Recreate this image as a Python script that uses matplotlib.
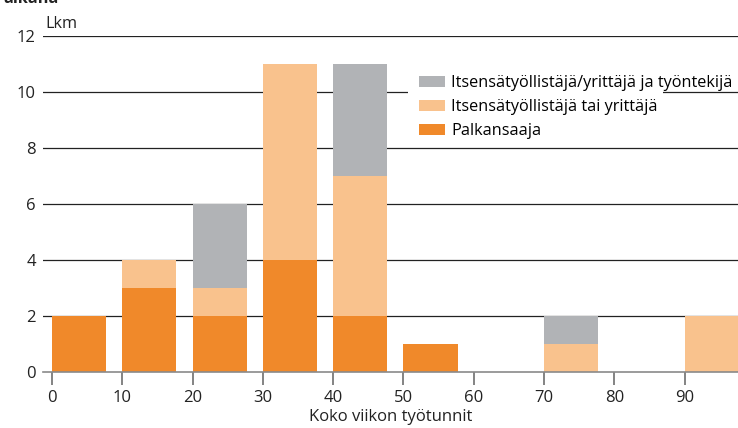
import numpy as np
import matplotlib.pyplot as plt
from matplotlib.patches import Rectangle

plt.rcParams['font.family'] = ['Open Sans', 'DejaVu Sans']

# weekly working hours, bins start at these values
hours = [0, 10, 20, 30, 40, 50, 70, 90]
palkansaaja = [2, 3, 2, 4, 2, 1, 0, 0]
tai_yrittaja = [0, 1, 1, 7, 5, 0, 1, 2]
ja_tyontekija = [0, 0, 3, 0, 4, 0, 1, 0]

labels = ['Palkansaaja', 'Itsensätyöllistäjä tai yrittäjä',
          'Itsensätyöllistäjä/yrittäjä ja työntekijä']
colors = ['#F0892A', '#F9C28D', '#B1B3B6']
fs = 11.7

fig = plt.figure(figsize=(7.38, 4.28), dpi=100)
ax = fig.add_axes([0.058, 0.131, 0.942, 0.785])

x = np.array(hours)
p = np.array(palkansaaja)
t = np.array(tai_yrittaja)
j = np.array(ja_tyontekija)
width = 7.7

b1 = ax.bar(x, p, width=width, align='edge', color=colors[0], label=labels[0], zorder=3)
b2 = ax.bar(x, t, width=width, align='edge', bottom=p, color=colors[1], label=labels[1], zorder=3)
b3 = ax.bar(x, j, width=width, align='edge', bottom=p + t, color=colors[2], label=labels[2], zorder=3)

ax.set_xlim(-1.3, 97.6)
ax.set_ylim(0, 12)
ax.set_yticks(range(0, 13, 2))
ax.set_xticks(range(0, 100, 10))

for yv in range(2, 13, 2):
    ax.axhline(yv, color='#222222', lw=0.9, zorder=1)

# white strip behind the legend text where it crosses the 10 gridline
ax.add_patch(Rectangle((0.525, 9.7), 0.367, 0.6, transform=ax.get_yaxis_transform(),
                       facecolor='white', edgecolor='none', zorder=2))

for s in ['top', 'right', 'left']:
    ax.spines[s].set_visible(False)
ax.spines['bottom'].set_color('#8a8a8a')
ax.spines['bottom'].set_linewidth(1.2)
ax.spines['bottom'].set_zorder(4)

ax.tick_params(axis='y', length=0, pad=5, labelsize=12, colors='#222222')
ax.tick_params(axis='x', length=9, width=1.2, color='#6e6e6e', pad=4,
               labelsize=12, labelcolor='#222222')

ax.set_xlabel('Koko viikon työtunnit', fontsize=12, color='#222222', labelpad=2)
ax.text(-1.0, 12.15, 'Lkm', fontsize=fs, color='#222222', va='bottom', ha='left')
fig.text(0.004, 1 - 3 / 428, 'aikana', fontsize=fs, fontweight='bold', color='#222222',
         va='baseline', ha='left')

leg = ax.legend(handles=[b3, b2, b1], loc='upper left', bbox_to_anchor=(0.537, 0.893),
                frameon=False, fontsize=fs, handlelength=1.6, handleheight=0.7,
                handletextpad=0.35, labelspacing=0.5, borderpad=0.2,
                borderaxespad=0)
leg.set_zorder(3)

fig.savefig('out.png', dpi=100)
